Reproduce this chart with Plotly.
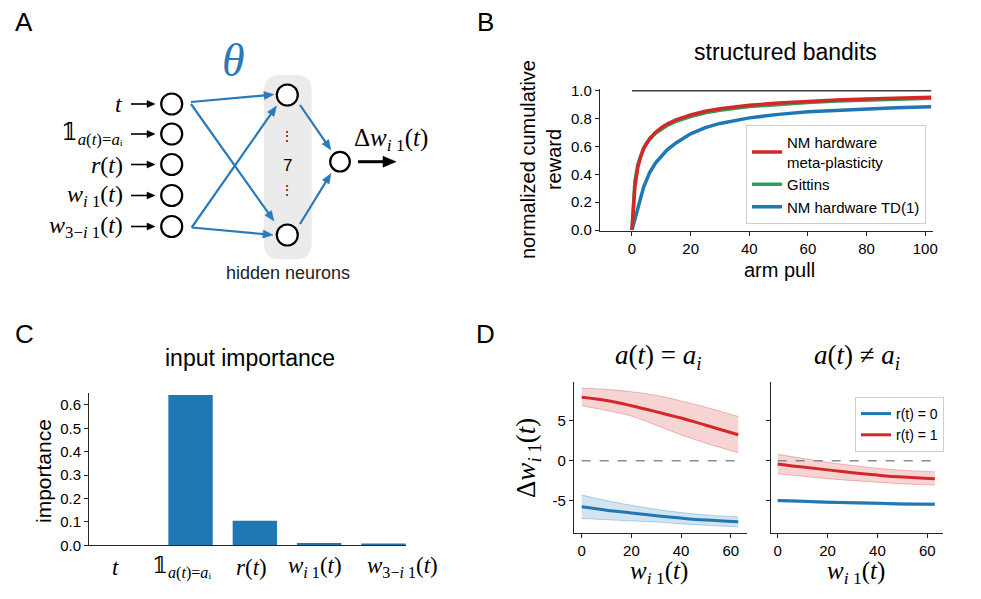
import math
import plotly.graph_objects as go

W, H = 981, 599
def X(px): return px / W
def Y(py): return 1 - py / H

SANS = "Liberation Sans, Arial, Helvetica, sans-serif"
SERIF = "Liberation Serif, DejaVu Serif, serif"
BLUE = "#1f77b4"
RED = "#d62728"
GREEN = "#2ca05a"
ARROW_BLUE = "#2a7ab8"
AXC = "#262626"

# ---------------- Panel B data ----------------
arm_pull = [0, 1, 2, 3, 4, 5, 6, 8, 10, 12, 15, 20, 25, 30, 40, 50, 60, 70, 80, 90, 102]
meta_plasticity = [0.0, 0.31, 0.45, 0.53, 0.585, 0.625, 0.655, 0.70, 0.735, 0.76, 0.79, 0.826,
                   0.852, 0.87, 0.895, 0.912, 0.925, 0.934, 0.941, 0.947, 0.953]
gittins = [0.0, 0.35, 0.47, 0.54, 0.59, 0.625, 0.652, 0.695, 0.725, 0.75, 0.78, 0.815,
           0.842, 0.86, 0.886, 0.903, 0.916, 0.926, 0.933, 0.939, 0.945]
td1 = [0.0, 0.08, 0.17, 0.25, 0.31, 0.36, 0.41, 0.48, 0.53, 0.575, 0.625, 0.69,
       0.735, 0.765, 0.805, 0.83, 0.848, 0.86, 0.87, 0.878, 0.885]
optimal_x = [0, 102]
optimal_y = [1.0, 1.0]
b_yticks = [0.0, 0.2, 0.4, 0.6, 0.8, 1.0]
b_xticks = [0, 20, 40, 60, 80, 100]

# ---------------- Panel C data ----------------
input_labels = ["<i>t</i>",
                "𝟙<sub><i>a</i>(<i>t</i>)=<i>a</i>ᵢ</sub>",
                "<i>r</i>(<i>t</i>)",
                "<i>w</i><sub><i>i</i> 1</sub>(<i>t</i>)",
                "<i>w</i><sub>3−<i>i</i> 1</sub>(<i>t</i>)"]
importance = [0.0, 0.642, 0.105, 0.010, 0.008]
c_yticks = [0.0, 0.1, 0.2, 0.3, 0.4, 0.5, 0.6]

# ---------------- Panel D data ----------------
w_i1 = [0, 10, 20, 30, 40, 50, 63]
same_r1 = [7.95, 7.55, 6.9, 6.15, 5.35, 4.45, 3.25]
same_r1_hi = [9.1, 8.95, 8.65, 8.2, 7.5, 6.7, 5.55]
same_r1_lo = [6.9, 6.3, 5.6, 4.45, 3.25, 2.2, 1.0]
same_r0 = [-5.77, -6.2, -6.55, -6.9, -7.2, -7.45, -7.65]
same_r0_hi = [-4.3, -5.0, -5.6, -6.1, -6.5, -6.8, -7.05]
same_r0_lo = [-7.25, -7.4, -7.55, -7.7, -7.9, -8.1, -8.3]
diff_r1 = [-0.4, -0.8, -1.15, -1.5, -1.8, -2.05, -2.25]
diff_r1_hi = [0.8, 0.3, -0.2, -0.6, -0.95, -1.2, -1.4]
diff_r1_lo = [-1.65, -1.95, -2.25, -2.5, -2.7, -2.9, -3.05]
diff_r0 = [-5.0, -5.1, -5.2, -5.28, -5.35, -5.42, -5.47]
diff_r0_hi = [-4.85, -4.95, -5.05, -5.13, -5.2, -5.27, -5.32]
diff_r0_lo = [-5.15, -5.25, -5.35, -5.43, -5.5, -5.57, -5.62]
d_xticks = [0, 20, 40, 60]
d_yticks = [-5, 0, 5]
d_yticktext = ["-5", "0", "5"]

fig = go.Figure()

# ---- Panel B traces ----
fig.add_trace(go.Scatter(x=optimal_x, y=optimal_y, mode="lines", line=dict(color="#404040", width=1.6),
                         showlegend=False, xaxis="x", yaxis="y", hoverinfo="skip"))
fig.add_trace(go.Scatter(x=arm_pull, y=td1, mode="lines", name="NM hardware TD(1)",
                         line=dict(color=BLUE, width=3.5), xaxis="x", yaxis="y"))
fig.add_trace(go.Scatter(x=arm_pull, y=gittins, mode="lines", name="Gittins",
                         line=dict(color=GREEN, width=3.5), xaxis="x", yaxis="y"))
fig.add_trace(go.Scatter(x=arm_pull, y=meta_plasticity, mode="lines", name="NM hardware<br>meta-plasticity",
                         line=dict(color=RED, width=3.5), xaxis="x", yaxis="y"))

# ---- Panel C ----
fig.add_trace(go.Bar(x=list(range(len(importance))), y=importance, marker=dict(color=BLUE, line=dict(width=0)),
                     width=0.69, showlegend=False, xaxis="x2", yaxis="y2"))

# ---- Panel D ----
def band(xs, hi, lo, color, xa, ya):
    fig.add_trace(go.Scatter(x=xs, y=hi, mode="lines", line=dict(color=color, width=0.6, shape="spline"),
                             showlegend=False, xaxis=xa, yaxis=ya, hoverinfo="skip"))
    fig.add_trace(go.Scatter(x=xs, y=lo, mode="lines", line=dict(color=color, width=0.6, shape="spline"),
                             fill="tonexty", fillcolor=color.replace("0.5)", "0.2)"),
                             showlegend=False, xaxis=xa, yaxis=ya, hoverinfo="skip"))

band(w_i1, same_r1_hi, same_r1_lo, "rgba(214,39,40,0.5)", "x3", "y3")
band(w_i1, same_r0_hi, same_r0_lo, "rgba(31,119,180,0.5)", "x3", "y3")
band(w_i1, diff_r1_hi, diff_r1_lo, "rgba(214,39,40,0.5)", "x4", "y4")
band(w_i1, diff_r0_hi, diff_r0_lo, "rgba(31,119,180,0.5)", "x4", "y4")

for xa, ya in (("x3", "y3"), ("x4", "y4")):
    fig.add_trace(go.Scatter(x=[0, 63], y=[0, 0], mode="lines", line=dict(color="#8c8c8c", width=1.6, dash="dash"),
                             showlegend=False, xaxis=xa, yaxis=ya, hoverinfo="skip"))

fig.add_trace(go.Scatter(x=w_i1, y=same_r1, mode="lines", line=dict(color=RED, width=3, shape="spline"),
                         showlegend=False, xaxis="x3", yaxis="y3"))
fig.add_trace(go.Scatter(x=w_i1, y=same_r0, mode="lines", line=dict(color=BLUE, width=3, shape="spline"),
                         showlegend=False, xaxis="x3", yaxis="y3"))
fig.add_trace(go.Scatter(x=w_i1, y=diff_r0, mode="lines", name="r(t) = 0", line=dict(color=BLUE, width=3, shape="spline"),
                         legend="legend2", xaxis="x4", yaxis="y4"))
fig.add_trace(go.Scatter(x=w_i1, y=diff_r1, mode="lines", name="r(t) = 1", line=dict(color=RED, width=3, shape="spline"),
                         legend="legend2", xaxis="x4", yaxis="y4"))

axis_common = dict(showgrid=False, zeroline=False, showline=True, linecolor=AXC, linewidth=1.3,
                   ticks="outside", ticklen=4, tickwidth=1.2, tickcolor=AXC,
                   tickfont=dict(family=SANS, size=15, color="black"))

fig.update_layout(
    autosize=True, margin=dict(l=0, r=0, t=0, b=0, autoexpand=False),
    paper_bgcolor="white", plot_bgcolor="white",
    font=dict(family=SANS, color="black"),
    xaxis=dict(domain=[X(600), X(932.6)], range=[-10.9, 102.5], anchor="y",
               tickvals=b_xticks, **axis_common),
    yaxis=dict(domain=[Y(230.7), Y(89.3)], range=[-0.005, 1.01], anchor="x",
               tickvals=b_yticks, ticktext=["%.1f" % v for v in b_yticks], **axis_common),
    xaxis2=dict(domain=[X(89.3), X(406)], range=[-0.574, 4.35], anchor="y2",
                tickvals=list(range(len(input_labels))), showticklabels=False,
                **{**axis_common, "ticks": ""}),
    yaxis2=dict(domain=[Y(545.3), Y(392.7)], range=[0, 0.652], anchor="x2",
                tickvals=c_yticks, ticktext=["%.1f" % v for v in c_yticks], **axis_common),
    xaxis3=dict(domain=[X(574), X(746.7)], range=[-3.1, 66.4], anchor="y3", tickvals=d_xticks, **axis_common),
    yaxis3=dict(domain=[Y(532.7), Y(381.7)], range=[-9.03, 9.91], anchor="x3",
                tickvals=d_yticks, ticktext=d_yticktext, **axis_common),
    xaxis4=dict(domain=[X(770.7), X(943.3)], range=[-2.8, 66.4], anchor="y4", tickvals=d_xticks, **axis_common),
    yaxis4=dict(domain=[Y(532.7), Y(381.7)], range=[-9.03, 9.91], anchor="x4",
                tickvals=d_yticks, showticklabels=False, **axis_common),
    legend=dict(x=X(746), y=Y(125), xanchor="left", yanchor="top", bgcolor="white",
                bordercolor="#cfcfcf", borderwidth=1, font=dict(family=SANS, size=15, color="black"),
                itemwidth=30, tracegroupgap=0, traceorder="reversed"),
    legend2=dict(x=X(855), y=Y(397), xanchor="left", yanchor="top", bgcolor="white",
                 bordercolor="#cfcfcf", borderwidth=1, font=dict(family=SANS, size=14, color="black"),
                 itemwidth=30, tracegroupgap=0),
    showlegend=True,
)

ann = []
shapes = []
def text(px, py, s, size, family=SANS, color="black", xanchor="center", angle=0, yanchor="middle"):
    ann.append(dict(x=X(px), y=Y(py), xref="paper", yref="paper", text=s, showarrow=False,
                    font=dict(family=family, size=size, color=color), xanchor=xanchor, yanchor=yanchor,
                    textangle=angle))

def arrow(tx, ty, hx, hy, color, width, hl=10, hw=8):
    L = math.hypot(hx - tx, hy - ty)
    dx, dy = (hx - tx) / L, (hy - ty) / L
    bx, by = hx - dx * hl, hy - dy * hl
    nx, ny = -dy, dx
    shapes.append(dict(type="line", xref="paper", yref="paper", x0=X(tx), y0=Y(ty), x1=X(bx + dx), y1=Y(by + dy),
                       line=dict(color=color, width=width), layer="above"))
    p = "M %.5f,%.5f L %.5f,%.5f L %.5f,%.5f Z" % (X(hx), Y(hy), X(bx + nx * hw / 2), Y(by + ny * hw / 2),
                                                   X(bx - nx * hw / 2), Y(by - ny * hw / 2))
    shapes.append(dict(type="path", path=p, xref="paper", yref="paper", fillcolor=color,
                       line=dict(color=color, width=0.5), layer="above"))

# panel letters
for lx, ly, s in ((24, 22.5, "A"), (485, 22.5, "B"), (24, 334, "C"), (485, 334, "D")):
    text(lx, ly, s, 26)

# Panel B text
text(785, 52, "structured bandits", 23)
text(779, 270, "arm pull", 20)
text(541, 160, "normalized cumulative<br>reward", 20, angle=-90)

# Panel C text
text(250, 358, "input importance", 23)
text(43, 471, "importance", 21, angle=-90)
c_label_shift = [-11, -9, -3, -4, 19]
for i, (lab, sh) in enumerate(zip(input_labels, c_label_shift)):
    ann.append(dict(x=i, y=Y(567), xref="x2", yref="paper", text=lab, showarrow=False, xshift=sh,
                    font=dict(family=SERIF, size=23, color="black"), xanchor="center", yanchor="middle"))

# Panel D text
text(658, 357, "<i>a</i>(<i>t</i>) = <i>a</i><sub><i>i</i></sub>", 27, family=SERIF)
text(857, 357, "<i>a</i>(<i>t</i>) ≠ <i>a</i><sub><i>i</i></sub>", 27, family=SERIF)
text(528, 458, "Δ<i>w</i><sub><i>i</i> 1</sub>(<i>t</i>)", 27, family=SERIF, angle=-90)
text(659, 572, "<i>w</i><sub><i>i</i> 1</sub>(<i>t</i>)", 25, family=SERIF)
text(856, 572, "<i>w</i><sub><i>i</i> 1</sub>(<i>t</i>)", 25, family=SERIF)

# Panel A: network diagram
in_x = 171.7
in_y = [104, 134, 164.5, 195.5, 226.5]
in_labels = input_labels
hid = [(287.3, 95), (287.3, 235)]
out = (340, 161.7)
R = 10.5

x0, x1, y0, y1, r = 264, 311.7, 75, 259.3, 16
pts = [("M", x0 + r, y0), ("L", x1 - r, y0), ("Q", x1, y0, x1, y0 + r), ("L", x1, y1 - r),
       ("Q", x1, y1, x1 - r, y1), ("L", x0 + r, y1), ("Q", x0, y1, x0, y1 - r), ("L", x0, y0 + r),
       ("Q", x0, y0, x0 + r, y0)]
path = ""
for p in pts:
    coords = p[1:]
    s = ["%.5f,%.5f" % (X(coords[i]), Y(coords[i + 1])) for i in range(0, len(coords), 2)]
    path += p[0] + " " + " ".join(s) + " "
path += "Z"
shapes.append(dict(type="path", path=path, xref="paper", yref="paper", fillcolor="#ebebeb",
                   line=dict(width=0), layer="below"))

def circle(cx, cy, rr):
    shapes.append(dict(type="circle", xref="paper", yref="paper", x0=X(cx - rr), x1=X(cx + rr),
                       y0=Y(cy + rr), y1=Y(cy - rr), line=dict(color="black", width=2.2),
                       fillcolor="white", layer="above"))

for yy in in_y:
    circle(in_x, yy, R)
for hx, hy in hid:
    circle(hx, hy, R)
circle(out[0], out[1], 9.8)

for yy, lab in zip(in_y, in_labels):
    text(125, yy, lab, 24, family=SERIF, xanchor="right")
    arrow(131, yy, 155, yy, "black", 1.6, hl=8, hw=7)

text(287.3, 165, "7", 17)
text(287.3, 136, "⋮", 12)
text(287.3, 190, "⋮", 12)
text(287.5, 273, "hidden neurons", 18, color="#222")
text(233, 60, "<i>θ</i>", 46, family=SERIF, color=ARROW_BLUE)
text(352, 140, "Δ<i>w</i><sub><i>i</i> 1</sub>(<i>t</i>)", 25, family=SERIF, xanchor="left")

arrow(191, 102, 274, 94.5, ARROW_BLUE, 2.2)
arrow(191, 104, 274, 221, ARROW_BLUE, 2.2)
arrow(191.7, 227.5, 276.5, 106, ARROW_BLUE, 2.2)
arrow(191.7, 227.5, 273, 235, ARROW_BLUE, 2.2)
arrow(300, 105, 331, 150, ARROW_BLUE, 2.2)
arrow(300, 224, 331, 173.5, ARROW_BLUE, 2.2)
arrow(358, 161.7, 396, 161.7, "black", 3, hl=13, hw=11)

fig.update_layout(annotations=ann, shapes=shapes)

fig.write_html("out.html", config={"displayModeBar": False},
               default_width="981px;position:absolute;left:0;top:0",
               default_height="599px",
               post_script="document.body.style.margin='0';")
